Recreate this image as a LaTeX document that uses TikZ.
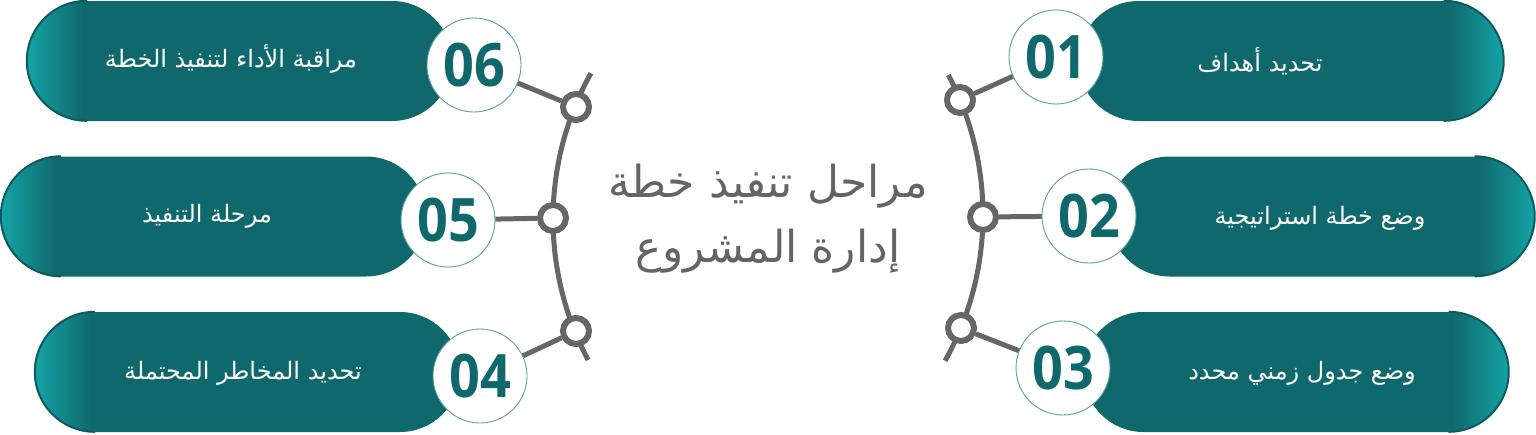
\documentclass[tikz,border=0pt]{standalone}
\usepackage{fontspec}
\setmainfont{Open Sans}
\newfontfamily\arabicfont[Script=Arabic]{DejaVu Sans}
\newfontfamily\numfont[FakeStretch=0.9]{Open Sans}
\TeXXeTstate=1
\definecolor{tealdark}{HTML}{0F696C}
\definecolor{teallight}{HTML}{15A3A6}
\definecolor{tealedge}{HTML}{0C5C5F}
\definecolor{ringgray}{HTML}{666666}
\definecolor{circedge}{HTML}{5A9FA1}
\definecolor{titlegray}{HTML}{646464}
\pgfdeclarehorizontalshading{pillshadeR}{100bp}{color(0bp)=(tealdark); color(68.5bp)=(tealdark); color(75bp)=(teallight); color(100bp)=(teallight)}
\pgfdeclarehorizontalshading{pillshadeL}{100bp}{color(0bp)=(teallight); color(25bp)=(teallight); color(31.5bp)=(tealdark); color(100bp)=(tealdark)}
\tikzset{
  pillbox/.style={rectangle, rounded corners=60pt, minimum width=425pt, minimum height=120pt, inner sep=0pt, shade},
  pillright/.style={pillbox, shading=pillshadeR},
  pillleft/.style={pillbox, shading=pillshadeL},
  pilledge/.style={draw=tealedge, line width=2pt},
  ringnode/.style={circle, draw=ringgray, line width=6pt, fill=white, minimum size=26pt, inner sep=0pt},
  numcirc/.style={circle, draw=circedge, line width=0.9pt, fill=white, minimum size=94pt, inner sep=0pt, text=tealdark, font=\numfont\bfseries\fontsize{60}{60}\selectfont},
  conn/.style={draw=ringgray, line width=5pt},
  arcline/.style={draw=ringgray, line width=5pt},
  steptext/.style={text=white, inner sep=0pt, font=\arabicfont\fontsize{24}{28}\selectfont},
  titletext/.style={text=titlegray, inner sep=0pt, align=center, font=\arabicfont\fontsize{44}{65}\selectfont}
}
\begin{document}
\begin{tikzpicture}[x=1pt,y=-1pt]
\useasboundingbox[fill=white] (0,0) rectangle (1536,434);
% pills
\node[pillright] (p1) at (1291,61) {};
\node[pillright] (p2) at (1322,216.5) {};
\node[pillright] (p3) at (1296,372) {};
\node[pillleft] (p6) at (239.5,61) {};
\node[pillleft] (p5) at (213.5,216.5) {};
\node[pillleft] (p4) at (247.5,372) {};
\draw[pilledge] ([xshift=-60pt]p1.north east) arc[start angle=90, end angle=-90, radius=60pt];
\draw[pilledge] ([xshift=-60pt]p2.north east) arc[start angle=90, end angle=-90, radius=60pt];
\draw[pilledge] ([xshift=-60pt]p3.north east) arc[start angle=90, end angle=-90, radius=60pt];
\draw[pilledge] ([xshift=60pt]p6.north west) arc[start angle=90, end angle=270, radius=60pt];
\draw[pilledge] ([xshift=60pt]p5.north west) arc[start angle=90, end angle=270, radius=60pt];
\draw[pilledge] ([xshift=60pt]p4.north west) arc[start angle=90, end angle=270, radius=60pt];
% labels
\node[steptext] (t1) at (1260,61) {\beginR تحديد أهداف\endR};
\node[steptext] (t2) at (1320,218) {\beginR وضع خطة استراتيجية\endR};
\node[steptext] (t3) at (1302,373) {\beginR وضع جدول زمني محدد\endR};
\node[steptext] (t6) at (231,59) {\beginR مراقبة الأداء لتنفيذ الخطة\endR};
\node[steptext] (t5) at (207,216) {\beginR مرحلة التنفيذ\endR};
\node[steptext] (t4) at (243,373) {\beginR تحديد المخاطر المحتملة\endR};
% arcs
\draw[arcline] (945.1,360.8) arc[start angle=-29.1, end angle=27.8, radius=300pt];
\draw[arcline] (590.9,73.2) arc[start angle=150.9, end angle=208, radius=300pt];
% rings
\node[ringnode] (r1) at (960,100) {};
\node[ringnode] (r2) at (983,217) {};
\node[ringnode] (r3) at (961,328) {};
\node[ringnode] (r6) at (576,107) {};
\node[ringnode] (r5) at (553,218) {};
\node[ringnode] (r4) at (576,331) {};
% number circles
\node[numcirc] (n1) at (1056,57) {01};
\node[numcirc] (n2) at (1089,216) {02};
\node[numcirc] (n3) at (1063,368) {03};
\node[numcirc] (n6) at (474,65) {06};
\node[numcirc] (n5) at (448,220) {05};
\node[numcirc] (n4) at (480,376) {04};
% connectors
\draw[conn] (r1) -- (n1);
\draw[conn] (r2) -- (n2);
\draw[conn] (r3) -- (n3);
\draw[conn] (r6) -- (n6);
\draw[conn] (r5) -- (n5);
\draw[conn] (r4) -- (n4);
% title
\node[titletext] (title) at (768,219) {\beginR مراحل تنفيذ خطة\endR\\\beginR إدارة المشروع\endR};
\end{tikzpicture}
\end{document}
